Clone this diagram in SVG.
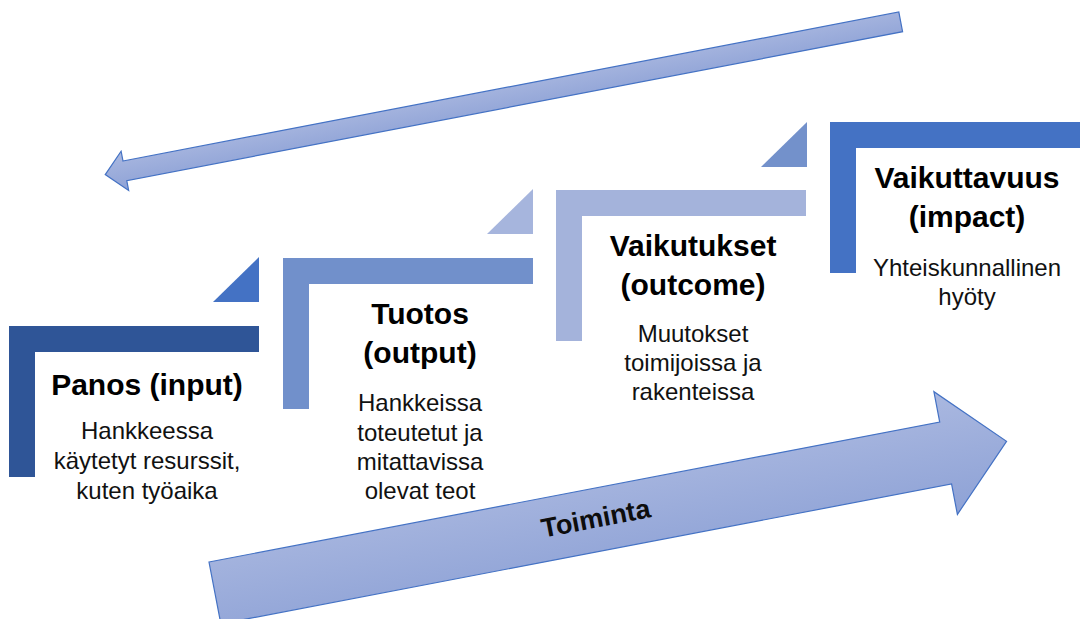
<svg xmlns="http://www.w3.org/2000/svg" width="1080" height="619" viewBox="0 0 1080 619">
  <style>
    .title { font-family: "Liberation Sans", Arial, sans-serif; font-weight: bold; font-size: 30px; fill: #000; text-anchor: middle; }
    .sub { font-family: "Liberation Sans", Arial, sans-serif; font-size: 24px; fill: #111; text-anchor: middle; }
    .arrow { stroke: #4472C4; stroke-width: 1.2; fill: url(#arrowGrad); stroke-linejoin: miter; }
    .lbl { font-family: "Liberation Sans", Arial, sans-serif; font-weight: bold; font-size: 27px; fill: #0d0d0d; text-anchor: middle; }
  </style>
  <defs>
    <linearGradient id="arrowGrad" x1="0" y1="0" x2="0" y2="1">
      <stop offset="0" stop-color="#AAB8E0"/>
      <stop offset="1" stop-color="#8EA2D6"/>
    </linearGradient>
  </defs>
  <rect width="1080" height="619" fill="#fff"/>

  <g id="connectors">
    <g id="arrow-feedback" transform="translate(123,161) rotate(-10.87)">
      <path class="arrow" d="M0,0 L790,0 L790,20 L0,20 L0,30 L-20,10 L0,-10 Z"/>
    </g>
    <g id="arrow-toiminta" transform="translate(209,562) rotate(-10.84)">
      <path class="arrow" d="M0,0 L744,0 L744,-31 L806,31.5 L744,94 L744,63 L0,63 Z"/>
      <text class="lbl" x="388" y="39">Toiminta</text>
    </g>
  </g>

  <g id="step-panos">
    <path fill="#2F5597" d="M9,326 H259 V352 H35 V477 H9 Z"/>
    <polygon fill="#4472C4" points="213,302 259,257 259,302"/>
    <text class="title" x="147" y="395">Panos (input)</text>
    <text class="sub" x="147" y="439">Hankkeessa</text>
    <text class="sub" x="147" y="469">käytetyt resurssit,</text>
    <text class="sub" x="147" y="499">kuten työaika</text>
  </g>

  <g id="step-tuotos">
    <path fill="#7190CB" d="M283,258 H533 V284 H309 V409 H283 Z"/>
    <polygon fill="#A6B5DD" points="487,234 533,189 533,234"/>
    <text class="title" x="420" y="324">Tuotos</text>
    <text class="title" x="420" y="363">(output)</text>
    <text class="sub" x="420" y="411">Hankkeissa</text>
    <text class="sub" x="420" y="441">toteutetut ja</text>
    <text class="sub" x="420" y="470">mitattavissa</text>
    <text class="sub" x="420" y="499">olevat teot</text>
  </g>

  <g id="step-vaikutukset">
    <path fill="#A4B3DB" d="M556,190 H806 V216 H582 V341 H556 Z"/>
    <polygon fill="#7391CB" points="761,167 807,122 807,167"/>
    <text class="title" x="693" y="256">Vaikutukset</text>
    <text class="title" x="693" y="295">(outcome)</text>
    <text class="sub" x="693" y="342">Muutokset</text>
    <text class="sub" x="693" y="371">toimijoissa ja</text>
    <text class="sub" x="693" y="400">rakenteissa</text>
  </g>

  <g id="step-vaikuttavuus">
    <path fill="#4472C4" d="M830,122 H1080 V148 H856 V273 H830 Z"/>
    <text class="title" x="967" y="188">Vaikuttavuus</text>
    <text class="title" x="967" y="227">(impact)</text>
    <text class="sub" x="967" y="276">Yhteiskunnallinen</text>
    <text class="sub" x="967" y="305">hyöty</text>
  </g>
</svg>
